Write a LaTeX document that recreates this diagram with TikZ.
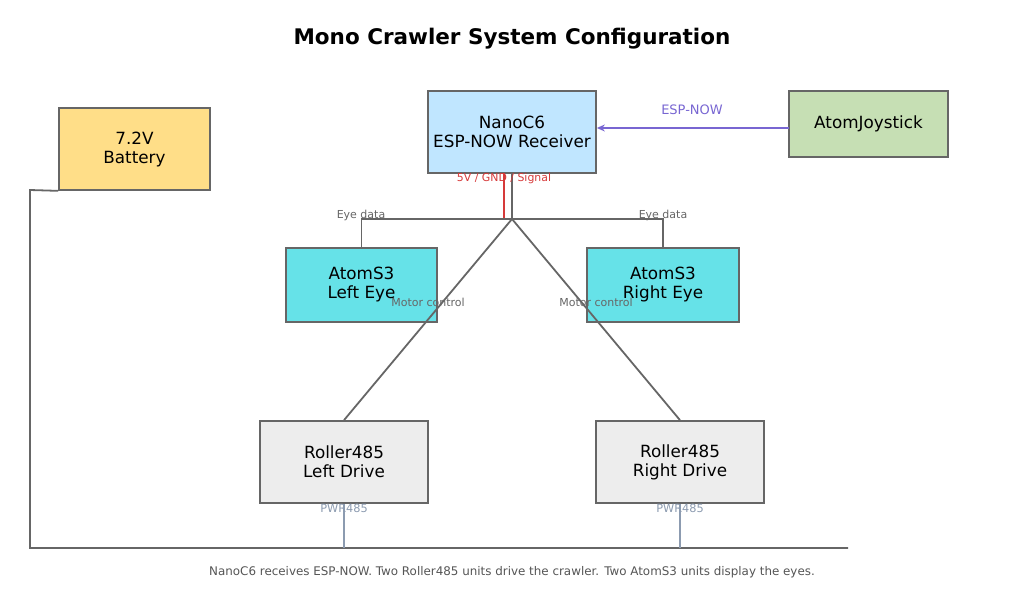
\documentclass[tikz,border=0pt]{standalone}
\usepackage{fontspec}
\setmainfont{DejaVu Sans}
\usetikzlibrary{arrows.meta}
\definecolor{edgegray}{HTML}{666666}
\definecolor{battfill}{HTML}{FFDE88}
\definecolor{nanofill}{HTML}{C0E6FF}
\definecolor{joyfill}{HTML}{C6DFB4}
\definecolor{eyefill}{HTML}{66E2E8}
\definecolor{rollfill}{HTML}{EDEDED}
\definecolor{espcol}{HTML}{7866D2}
\definecolor{redcol}{HTML}{D63A3A}
\definecolor{pwrcol}{HTML}{8C9BB0}
\definecolor{lblgray}{HTML}{666666}
\definecolor{footgray}{HTML}{555555}
\tikzset{
  box/.style={draw=edgegray, line width=1.7pt, align=center, inner sep=0pt,
    font=\fontsize{16.8}{19}\selectfont, text=black},
  conn/.style={draw=edgegray, line width=1.8pt},
  small/.style={font=\fontsize{11}{12}\selectfont, text=lblgray, inner sep=0pt},
}
\begin{document}
\begin{tikzpicture}[x=1pt,y=-1pt]
\useasboundingbox (0,0) rectangle (1024,594);
\node[font=\bfseries\fontsize{21.5}{24}\selectfont] (title) at (512,38.5) {Mono Crawler System Configuration};

\node[box, fill=battfill, minimum width=151pt, minimum height=82pt] (batt) at (134.5,149) {\strut7.2V\\Battery};
\node[box, fill=nanofill, minimum width=168pt, minimum height=82pt] (nano) at (512,132) {NanoC6\\ESP-NOW Receiver};
\node[box, fill=joyfill, minimum width=159pt, minimum height=66pt] (joy) at (868.5,124) {AtomJoystick};
\node[box, fill=eyefill, minimum width=151pt, minimum height=74pt] (le) at (361.5,285) {AtomS3\\Left Eye};
\node[box, fill=eyefill, minimum width=152pt, minimum height=74pt] (re) at (663,285) {AtomS3\\Right Eye};
\node[box, fill=rollfill, minimum width=168pt, minimum height=82pt] (rl) at (344,462) {Roller485\\Left Drive};
\node[box, fill=rollfill, minimum width=168pt, minimum height=82pt] (rr) at (680,462) {Roller485\\Right Drive};

% ESP-NOW link
\coordinate (espA) at (789,128);
\draw[draw=espcol, line width=1.8pt, -{Stealth[length=8pt,width=7pt]}] (espA) -- (espA -| nano.east);
\node[font=\fontsize{13}{15}\selectfont, text=espcol] (esplbl) at (692,109.5) {ESP-NOW};

% junction
\coordinate (j) at (512,219);
\coordinate (jr) at (504,219);
\coordinate (nr) at (504,173);
\draw[conn] (nano.south) -- (j);
\draw[draw=redcol, line width=1.8pt] (nr) -- (jr);
\node[font=\fontsize{10.9}{12}\selectfont, text=redcol] (pwrlbl) at (504,178.5) {5V / GND / Signal};

% eye data
\draw[conn] (le.north) -- (le.north |- j) -- (re.north |- j) -- (re.north);
\node[small] (el) at (361,215.5) {Eye data};
\node[small] (er) at (663,215.5) {Eye data};

% motor control
\draw[conn] (j) -- (rl.north);
\draw[conn] (j) -- (rr.north);
\node[small] (ml) at (428,302.5) {Motor control};
\node[small] (mr) at (596,302.5) {Motor control};

% power bus
\coordinate (bc) at (30,190);
\coordinate (busL) at (30,548);
\coordinate (busR) at (848,548);
\draw[conn] (batt.south west) -- (bc) -- (busL) -- (busR);
\draw[draw=pwrcol, line width=1.8pt] (rl.south) -- (rl.south |- busL);
\draw[draw=pwrcol, line width=1.8pt] (rr.south) -- (rr.south |- busL);
\node[font=\fontsize{11.3}{13}\selectfont, text=pwrcol] (p1) at (344,508.5) {PWR485};
\node[font=\fontsize{11.3}{13}\selectfont, text=pwrcol] (p2) at (680,508.5) {PWR485};

\node[font=\fontsize{11.9}{13}\selectfont, text=footgray] (foot) at (512,572.5) {NanoC6 receives ESP-NOW. Two Roller485 units drive the crawler. Two AtomS3 units display the eyes.};
\end{tikzpicture}
\end{document}
